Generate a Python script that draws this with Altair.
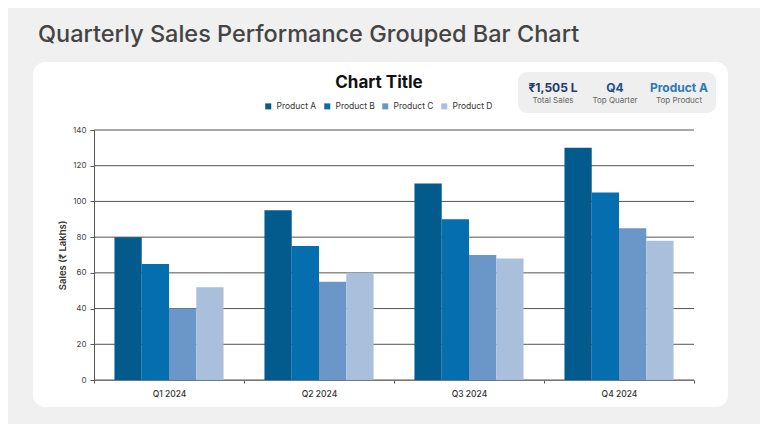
import altair as alt
import pandas as pd

# data
quarters = ["Q1 2024", "Q2 2024", "Q3 2024", "Q4 2024"]
products = ["Product A", "Product B", "Product C", "Product D"]
product_a = [80, 95, 110, 130]
product_b = [65, 75, 90, 105]
product_c = [40, 55, 70, 85]
product_d = [52, 60, 68, 78]
bar_colors = ["#035a8c", "#056eae", "#6a97c7", "#a9bfdc"]
y_ticks = [0, 20, 40, 60, 80, 100, 120, 140]

stat_values = ["₹1,505 L", "Q4", "Product A"]
stat_labels = ["Total Sales", "Top Quarter", "Top Product"]
stat_colors = ["#1e3b6e", "#1f4f8c", "#2b79b6"]

FONT = "Inter"

rows = []
for name, vals in zip(products, [product_a, product_b, product_c, product_d]):
    for q, v in zip(quarters, vals):
        rows.append({"Quarter": q, "Product": name, "Sales": v})
df = pd.DataFrame(rows)
grid_df = pd.DataFrame({"Sales": y_ticks})
one = pd.DataFrame({"k": [0]})

y_enc = alt.Y("Sales:Q",
              scale=alt.Scale(domain=[0, 140], nice=False),
              axis=alt.Axis(values=y_ticks, grid=False, domain=True, domainColor="#555",
                            tickColor="#555", tickSize=4, labelPadding=4, zindex=1,
                            labelFontSize=8, labelColor="#444", labelFont=FONT,
                            title="Sales (₹ Lakhs)", titleFontSize=9.5, titleFont=FONT,
                            titleFontWeight=600, titleColor="#333", titlePadding=5))

# white card and the stats box behind everything
card = alt.Chart(one).mark_rect(fill="white", cornerRadius=12).encode(
    x=alt.value(-61), x2=alt.value(634), y=alt.value(-68), y2=alt.value(277))
stat_box = alt.Chart(one).mark_rect(fill="#efefef", cornerRadius=9).encode(
    x=alt.value(424), x2=alt.value(622), y=alt.value(-58), y2=alt.value(-17))

grid = alt.Chart(grid_df).mark_rule(color="#555", strokeWidth=1).encode(
    y=y_enc, x=alt.value(0), x2=alt.value(600))

bars = alt.Chart(df).mark_bar().encode(
    x=alt.X("Quarter:N", sort=quarters,
            scale=alt.Scale(paddingInner=0, paddingOuter=0),
            axis=alt.Axis(title=None, labelAngle=0, tickBand="extent", tickSize=3,
                          tickColor="#555", domainColor="#777", labelFontSize=8.5,
                          labelColor="#333", labelFont=FONT, labelFontWeight=500,
                          labelPadding=6, zindex=1)),
    xOffset=alt.XOffset("Product:N", sort=products,
                        scale=alt.Scale(paddingInner=0, paddingOuter=0.75)),
    y=y_enc,
    color=alt.Color("Product:N", sort=products,
                    scale=alt.Scale(domain=products, range=bar_colors),
                    legend=alt.Legend(title=None, orient="none", direction="horizontal",
                                      legendX=170, legendY=-28, symbolType="square",
                                      symbolSize=36, symbolStrokeWidth=0,
                                      labelFontSize=8.5, labelFont=FONT, labelColor="#333",
                                      columnPadding=6, labelOffset=4)),
)

main_title = alt.Chart(one).mark_text(align="left", baseline="alphabetic", fontSize=23.5,
                                      font=FONT, fontWeight=500, color="#444").encode(
    x=alt.value(-56), y=alt.value(-88), text=alt.value("Quarterly Sales Performance Grouped Bar Chart"))
chart_title = alt.Chart(one).mark_text(align="center", baseline="alphabetic", fontSize=17,
                                       font=FONT, fontWeight="bold", color="#111").encode(
    x=alt.value(285), y=alt.value(-42), text=alt.value("Chart Title"))

stat_x = [459, 521, 585]
stat_layers = []
for sx, val, lab, col in zip(stat_x, stat_values, stat_labels, stat_colors):
    stat_layers.append(alt.Chart(one).mark_text(align="center", baseline="alphabetic",
                                                fontSize=12, fontWeight="bold", font=FONT,
                                                color=col).encode(
        x=alt.value(sx), y=alt.value(-38), text=alt.value(val)))
    stat_layers.append(alt.Chart(one).mark_text(align="center", baseline="alphabetic",
                                                fontSize=8, font=FONT, color="#666").encode(
        x=alt.value(sx), y=alt.value(-27), text=alt.value(lab)))

chart = alt.layer(card, stat_box, grid, bars, main_title, chart_title, *stat_layers).properties(
    width=600, height=250,
    autosize=alt.AutoSizeParams(type="none"),
    padding={"left": 86, "top": 122, "right": 66, "bottom": 44},
    background="#f0f0f0",
).configure_view(stroke=None)

chart.save("out.html", embed_options={"renderer": "svg", "actions": False})
